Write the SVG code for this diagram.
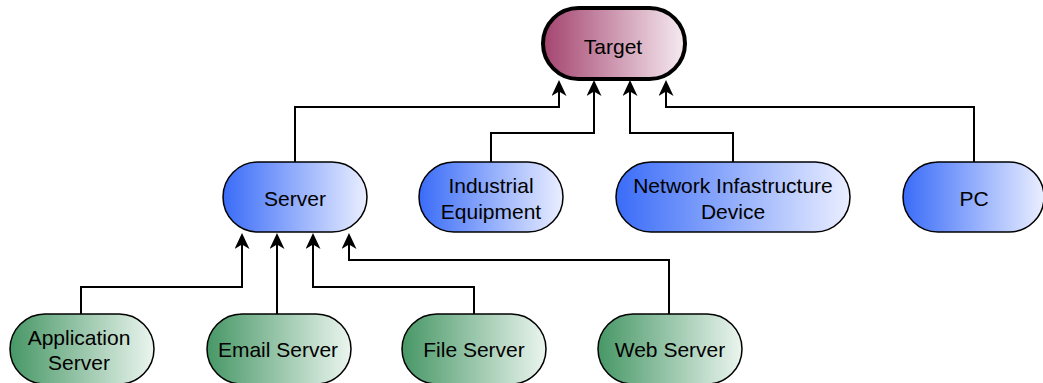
<svg xmlns="http://www.w3.org/2000/svg" width="1043" height="383" viewBox="0 0 1043 383">
<defs>
<linearGradient id="gTarget" x1="0" y1="0" x2="1" y2="0">
<stop offset="0" stop-color="#a4446f"/>
<stop offset="1" stop-color="#f6ebf1"/>
</linearGradient>
<linearGradient id="gBlue" x1="0" y1="0" x2="1" y2="0">
<stop offset="0" stop-color="#3a6cf8"/>
<stop offset="1" stop-color="#eaeeff"/>
</linearGradient>
<linearGradient id="gGreen" x1="0" y1="0" x2="1" y2="0">
<stop offset="0" stop-color="#479766"/>
<stop offset="1" stop-color="#ebf5ef"/>
</linearGradient>
<marker id="arr" viewBox="0 0 16 15" refX="13" refY="7.5" markerWidth="16" markerHeight="15" markerUnits="userSpaceOnUse" orient="auto">
<path d="M0,0 L16,7.5 L0,15 L4.5,7.5 Z" fill="#000"/>
</marker>
</defs>
<style>
.blue{fill:url(#gBlue);stroke:#000;stroke-width:1.5}
.green{fill:url(#gGreen);stroke:#000;stroke-width:1.5}
.lbl{font-family:"Liberation Sans",Arial,sans-serif;font-size:21px;fill:#000;text-anchor:middle}
.con{fill:none;stroke:#000;stroke-width:2;marker-end:url(#arr)}
</style>
<g id="connectors">
<path class="con" d="M295,162 V107 H559 V83"/>
<path class="con" d="M491,162 V133 H594 V83"/>
<path class="con" d="M733,162 V133 H630 V83"/>
<path class="con" d="M974,162 V107 H666 V83"/>
<path class="con" d="M81,314 V287 H242 V236"/>
<path class="con" d="M277,314 V236"/>
<path class="con" d="M474,314 V287 H313 V236"/>
<path class="con" d="M669,314 V260 H349 V236"/>
</g>
<g id="target">
<rect x="543" y="8" width="142" height="71" rx="35.5" fill="url(#gTarget)" stroke="#000" stroke-width="4"/>
<text class="lbl" x="613" y="54">Target</text>
</g>
<g id="server">
<rect class="blue" x="223" y="162" width="144" height="70" rx="35"/>
<text class="lbl" x="295" y="206">Server</text>
</g>
<g id="industrial">
<rect class="blue" x="419" y="162" width="144" height="70" rx="35"/>
<text class="lbl" x="491" y="193">Industrial</text>
<text class="lbl" x="491" y="219">Equipment</text>
</g>
<g id="network">
<rect class="blue" x="616" y="162" width="234" height="70" rx="35"/>
<text class="lbl" x="733" y="193">Network Infastructure</text>
<text class="lbl" x="733" y="219">Device</text>
</g>
<g id="pc">
<rect class="blue" x="903" y="162" width="141" height="70" rx="35"/>
<text class="lbl" x="974" y="206">PC</text>
</g>
<g id="application-server">
<rect class="green" x="10" y="314" width="144" height="70" rx="35"/>
<text class="lbl" x="79" y="345">Application</text>
<text class="lbl" x="79" y="370">Server</text>
</g>
<g id="email-server">
<rect class="green" x="207" y="314" width="144" height="70" rx="35"/>
<text class="lbl" x="278" y="357">Email Server</text>
</g>
<g id="file-server">
<rect class="green" x="402" y="314" width="144" height="70" rx="35"/>
<text class="lbl" x="474" y="357">File Server</text>
</g>
<g id="web-server">
<rect class="green" x="598" y="314" width="144" height="70" rx="35"/>
<text class="lbl" x="670" y="357">Web Server</text>
</g>
</svg>
